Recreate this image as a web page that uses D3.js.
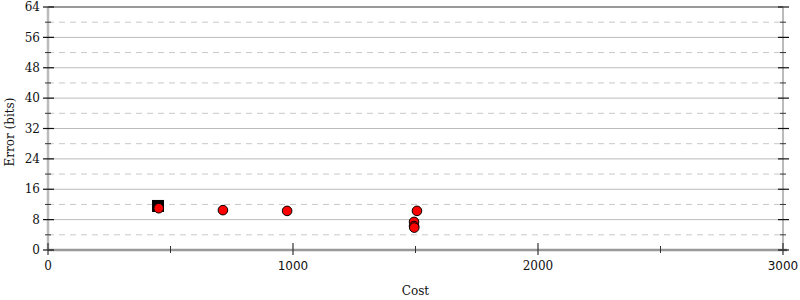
<!DOCTYPE html>
<html>
<head>
<meta charset="utf-8">
<script src="https://cdn.jsdelivr.net/npm/d3@7"></script>
<style>
  body { margin: 0; background: #fff; }
  svg { display: block; font-family: "DejaVu Serif", serif; }
</style>
</head>
<body>
<div id="chart"></div>
<script>
// points
const bestCost = [449];
const bestError = [11.6];
const pointCost = [452, 714, 976, 1506, 1494, 1494, 1495];
const pointError = [11.0, 10.5, 10.3, 10.3, 7.4, 6.3, 5.9];

const xMajor = [0, 1000, 2000, 3000];
const xMinor = [500, 1500, 2500];
const yMajor = [0, 8, 16, 24, 32, 40, 48, 56, 64];
const yMinor = [4, 12, 20, 28, 36, 44, 52, 60];
const sansLabels = [1000, 3000];

const width = 800, height = 300;
const plotLeft = 48, plotRight = 783, plotTop = 7, plotBottom = 250;

const x = d3.scaleLinear().domain([0, 3000]).range([plotLeft, plotRight]);
const y = d3.scaleLinear().domain([0, 64]).range([plotBottom, plotTop]);

const svg = d3.select("#chart").append("svg")
    .attr("width", width)
    .attr("height", height);

// grid
svg.append("g")
    .selectAll("line")
    .data(yMajor.filter(d => d > 0 && d < 64))
    .join("line")
    .attr("x1", plotLeft).attr("x2", plotRight)
    .attr("y1", d => y(d)).attr("y2", d => y(d))
    .attr("stroke", "#bbb").attr("stroke-width", 1);

svg.append("g")
    .selectAll("line")
    .data(yMinor)
    .join("line")
    .attr("x1", plotLeft).attr("x2", plotRight)
    .attr("y1", d => y(d)).attr("y2", d => y(d))
    .attr("stroke", "#c8c8c8").attr("stroke-width", 1)
    .attr("stroke-dasharray", "6,5");

// frame
svg.append("line")
    .attr("x1", plotLeft).attr("x2", plotRight).attr("y1", y(64)).attr("y2", y(64))
    .attr("stroke", "#999").attr("stroke-width", 2);
svg.append("line")
    .attr("x1", plotRight).attr("x2", plotRight).attr("y1", plotTop).attr("y2", plotBottom)
    .attr("stroke", "#bbb").attr("stroke-width", 2);
svg.append("line")
    .attr("x1", plotLeft).attr("x2", plotLeft).attr("y1", plotTop).attr("y2", plotBottom)
    .attr("stroke", "#bbb").attr("stroke-width", 2.5);
svg.append("line")
    .attr("x1", plotLeft).attr("x2", plotRight + 4).attr("y1", plotBottom).attr("y2", plotBottom)
    .attr("stroke", "#999").attr("stroke-width", 2.5);

// y ticks, both sides
[plotLeft, plotRight].forEach(ax => {
  svg.append("g").selectAll("line")
      .data(yMajor)
      .join("line")
      .attr("x1", ax - 5).attr("x2", ax + 6)
      .attr("y1", d => y(d)).attr("y2", d => y(d))
      .attr("stroke", "#111").attr("stroke-width", 1.2);
  svg.append("g").selectAll("line")
      .data(yMinor)
      .join("line")
      .attr("x1", ax - 3).attr("x2", ax + 3)
      .attr("y1", d => y(d)).attr("y2", d => y(d))
      .attr("stroke", "#333").attr("stroke-width", 1);
});

// x ticks
svg.append("g").selectAll("line")
    .data(xMajor)
    .join("line")
    .attr("x1", d => x(d)).attr("x2", d => x(d))
    .attr("y1", plotBottom - 7).attr("y2", plotBottom + 5)
    .attr("stroke", "#333").attr("stroke-width", 1.2);
svg.append("g").selectAll("line")
    .data(xMinor)
    .join("line")
    .attr("x1", d => x(d)).attr("x2", d => x(d))
    .attr("y1", plotBottom - 4).attr("y2", plotBottom + 3)
    .attr("stroke", "#333").attr("stroke-width", 1);

// tick labels
svg.append("g").selectAll("text")
    .data(yMajor)
    .join("text")
    .attr("x", 40)
    .attr("y", d => y(d))
    .attr("dy", "0.35em")
    .attr("text-anchor", "end")
    .attr("font-size", 12)
    .attr("fill", "#111")
    .text(d => d);

svg.append("g").selectAll("text")
    .data(xMajor)
    .join("text")
    .attr("x", d => x(d))
    .attr("y", 270)
    .attr("text-anchor", "middle")
    .attr("font-size", 12)
    .attr("fill", "#111")
    .attr("font-family", d => sansLabels.includes(d) ? "DejaVu Sans, sans-serif" : null)
    .text(d => d);

// axis titles
svg.append("text")
    .attr("x", x(1500))
    .attr("y", 295)
    .attr("text-anchor", "middle")
    .attr("font-size", 12)
    .attr("fill", "#111")
    .text("Cost");

svg.append("text")
    .attr("transform", "translate(14,132) rotate(-90)")
    .attr("text-anchor", "middle")
    .attr("font-size", 12)
    .attr("fill", "#111")
    .text("Error (bits)");

// marks
svg.append("g").selectAll("rect")
    .data(bestCost.map((c, i) => [c, bestError[i]]))
    .join("rect")
    .attr("x", d => x(d[0]) - 6)
    .attr("y", d => y(d[1]) - 6)
    .attr("width", 12).attr("height", 12)
    .attr("fill", "#000");

svg.append("g").selectAll("circle")
    .data(pointCost.map((c, i) => [c, pointError[i]]))
    .join("circle")
    .attr("cx", d => x(d[0]))
    .attr("cy", d => y(d[1]))
    .attr("r", 4.8)
    .attr("fill", "#ff0000")
    .attr("stroke", "#000")
    .attr("stroke-width", 1);
</script>
</body>
</html>
